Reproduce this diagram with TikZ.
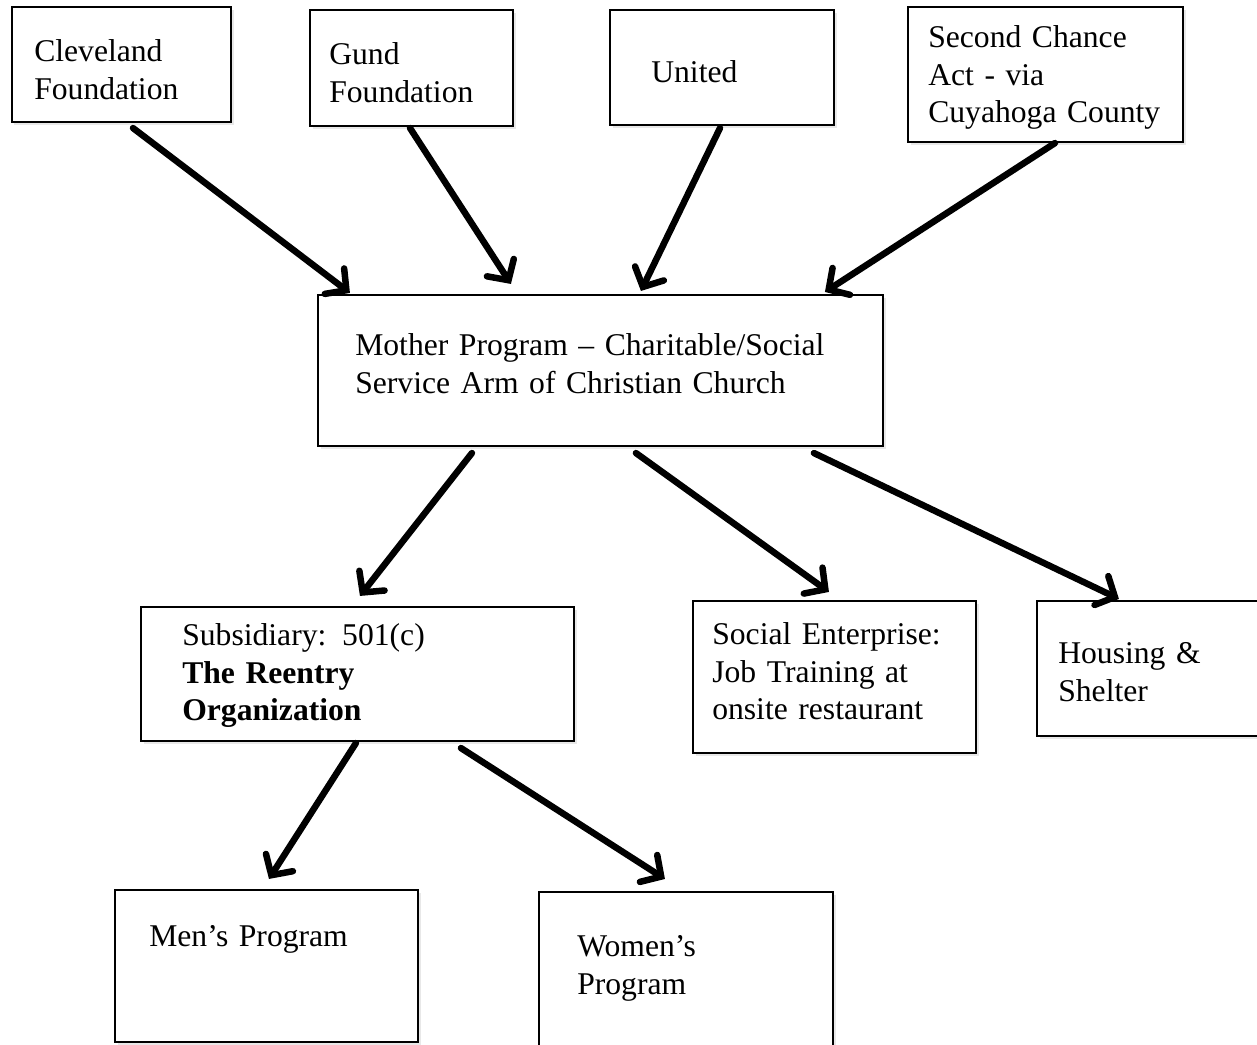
\documentclass[tikz,border=0pt]{standalone}
\usepackage{fontspec}
\setmainfont{Liberation Serif}
\usetikzlibrary{positioning, arrows.meta, shadows}

\tikzset{
  box/.style={rectangle, draw, line width=1.2pt, fill=white, inner sep=0pt,
    drop shadow={shadow xshift=0.05cm, shadow yshift=-0.06cm, opacity=0.18}},
  boxtext/.style={anchor=base west, inner sep=0pt, align=left, text width=11cm,
    font=\fontsize{18}{21.3}\selectfont},
  flow/.style={-{Straight Barb[length=3.0mm, width=6.4mm, line cap=round]},
    line width=3.7pt, line cap=round}
}

\begin{document}
\begin{tikzpicture}
\useasboundingbox (0,0) rectangle (25.14,-20.9);
% Nodes
\node (clev) [box, minimum width=4.38cm, minimum height=2.30cm] at (2.43,-1.29) {};
\node (gund) [box, minimum width=4.06cm, minimum height=2.32cm] at (8.23,-1.36) {};
\node (united) [box, minimum width=4.48cm, minimum height=2.30cm] at (14.44,-1.35) {};
\node (second) [box, minimum width=5.50cm, minimum height=2.70cm] at (20.91,-1.49) {};
\node (mother) [box, minimum width=11.30cm, minimum height=3.02cm] at (12.01,-7.41) {};
\node (subsid) [box, minimum width=8.66cm, minimum height=2.68cm] at (7.15,-13.48) {};
\node (social) [box, minimum width=5.66cm, minimum height=3.04cm] at (16.69,-13.54) {};
\node (housing) [box, minimum width=4.60cm, minimum height=2.70cm] at (23.04,-13.37) {};
\node (men) [box, minimum width=6.06cm, minimum height=3.04cm] at (5.33,-19.32) {};
\node (women) [box, minimum width=5.88cm, minimum height=3.30cm] at (13.72,-19.49) {};

% Labels
\node (clev-t) [boxtext] at ([xshift=0.46cm, yshift=-1.12cm]clev.north west) {Cleveland\\Foundation};
\node (gund-t) [boxtext] at ([xshift=0.40cm, yshift=-1.12cm]gund.north west) {Gund\\Foundation};
\node (united-t) [boxtext] at ([xshift=0.84cm, yshift=-1.48cm]united.north west) {United};
\node (second-t) [boxtext] at ([xshift=0.42cm, yshift=-0.84cm]second.north west) {Second Chance\\Act - via\\Cuyahoga County};
\node (mother-t) [boxtext] at ([xshift=0.76cm, yshift=-1.24cm]mother.north west) {Mother Program -- Charitable/Social\\Service Arm of Christian Church};
\node (subsid-t) [boxtext] at ([xshift=0.84cm, yshift=-0.80cm]subsid.north west) {Subsidiary: 501(c)\\\textbf{The Reentry}\\\textbf{Organization}};
\node (social-t) [boxtext] at ([xshift=0.40cm, yshift=-0.90cm]social.north west) {Social Enterprise:\\Job Training at\\onsite restaurant};
\node (housing-t) [boxtext] at ([xshift=0.44cm, yshift=-1.28cm]housing.north west) {Housing \&\\Shelter};
\node (men-t) [boxtext] at ([xshift=0.70cm, yshift=-1.16cm]men.north west) {Men’s Program};
\node (women-t) [boxtext] at ([xshift=0.78cm, yshift=-1.32cm]women.north west) {Women’s\\Program};

% Arrows
\draw[flow] ([xshift=0.23cm, yshift=-0.10cm]clev.south) -- ([xshift=0.66cm, yshift=0.02cm]mother.north west);
\draw[flow] ([xshift=-0.03cm, yshift=-0.02cm]gund.south) -- ([xshift=3.88cm, yshift=0.20cm]mother.north west);
\draw[flow] ([xshift=-0.04cm, yshift=-0.04cm]united.south) -- ([xshift=6.48cm, yshift=0.06cm]mother.north west);
\draw[flow] ([xshift=0.19cm, yshift=0.00cm]second.south) -- ([xshift=10.16cm, yshift=0.04cm]mother.north west);
\draw[flow] ([xshift=3.10cm, yshift=-0.12cm]mother.south west) -- ([xshift=4.40cm, yshift=0.20cm]subsid.north west);
\draw[flow] ([xshift=6.38cm, yshift=-0.12cm]mother.south west) -- ([xshift=2.74cm, yshift=0.16cm]social.north west);
\draw[flow] ([xshift=9.94cm, yshift=-0.12cm]mother.south west) -- ([xshift=1.66cm, yshift=0.02cm]housing.north west);
\draw[flow] ([xshift=4.32cm, yshift=-0.02cm]subsid.south west) -- ([xshift=3.10cm, yshift=0.20cm]men.north west);
\draw[flow] ([xshift=6.42cm, yshift=-0.12cm]subsid.south west) -- ([xshift=2.54cm, yshift=0.24cm]women.north west);
\end{tikzpicture}
\end{document}
